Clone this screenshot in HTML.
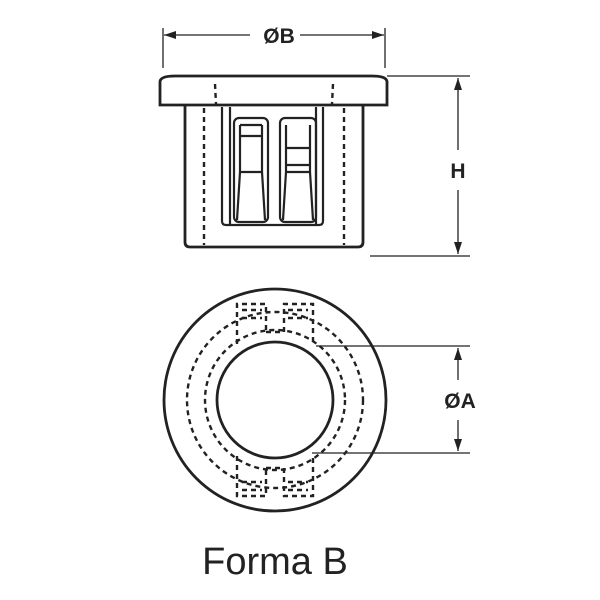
<!DOCTYPE html>
<html><head><style>body{margin:0;background:#fff}svg{display:block}</style></head><body>
<svg width="600" height="600" viewBox="0 0 600 600" xmlns="http://www.w3.org/2000/svg" font-family="Liberation Sans, sans-serif">
<defs><marker id="a" markerWidth="12" markerHeight="8" refX="12" refY="4" orient="auto" markerUnits="userSpaceOnUse"><path d="M0,0 L12,4 L0,8 Z" fill="#222"/></marker></defs>
<g stroke="#222" fill="none" stroke-width="1.3">
<line x1="163" y1="28" x2="163" y2="68"/><line x1="385" y1="28" x2="385" y2="68"/>
<line x1="250" y1="35" x2="164" y2="35" marker-end="url(#a)"/><line x1="300" y1="35" x2="384" y2="35" marker-end="url(#a)"/>
<line x1="387" y1="76" x2="470" y2="76"/><line x1="370" y1="256" x2="470" y2="256"/>
<line x1="458" y1="150" x2="458" y2="78" marker-end="url(#a)"/><line x1="458" y1="190" x2="458" y2="254" marker-end="url(#a)"/>
<line x1="316" y1="346" x2="470" y2="346"/><line x1="312" y1="453" x2="470" y2="453"/>
<line x1="458" y1="380" x2="458" y2="348" marker-end="url(#a)"/><line x1="458" y1="420" x2="458" y2="451" marker-end="url(#a)"/>
</g>
<g stroke="#222" fill="#fff" stroke-width="2.8">
<path d="M185,106 V242 Q185,247 190,247 H358 Q363,247 363,242 V106"/>
<path d="M160,105 V82 Q160,76 175,76 H372 Q387,76 387,82 V105 Z"/>
</g>
<g stroke="#222" fill="none" stroke-width="2.2">
<path d="M222,107 V221 Q222,225 226,225 H319 Q323,225 323,221 V107"/>
<path d="M230,107 V225 M316,107 V225"/>
<rect x="234" y="118" width="34" height="104" rx="5"/>
<rect x="280" y="118" width="36" height="104" rx="5"/>
<path d="M240,125 V172 L237,220 M262,125 V172 L265,220 M240,125 H262 M240,136 H262 M240,172 H262"/>
<path d="M286,125 V172 L283,220 M310,125 V172 L313,220 M286,148 H310 M286,165 H310 M286,172 H310"/>
</g>
<g stroke="#222" fill="none" stroke-width="2.4" stroke-dasharray="5,4">
<line x1="204" y1="108" x2="204" y2="245"/><line x1="344" y1="108" x2="344" y2="245"/>
<line x1="215" y1="84" x2="216" y2="104"/><line x1="333" y1="84" x2="332" y2="104"/>
<circle cx="275" cy="400" r="88"/><circle cx="275" cy="400" r="70"/>
<path d="M237,344 V304 H266 V332 M284,332 V304 H313 V344"/>
<path d="M237,456 V496 H266 V468 M284,468 V496 H313 V456"/>
<path d="M242,310 H262 M242,318 H262 M288,310 H308 M288,318 H308 M242,482 H262 M242,490 H262 M288,482 H308 M288,490 H308"/>
<path d="M266,332 H284 M266,468 H284"/>
</g>
<g stroke="#222" fill="none" stroke-width="2.8">
<circle cx="275" cy="400" r="111"/><circle cx="275" cy="400" r="58"/>
</g>
<g fill="#222" font-weight="bold" font-size="21" text-anchor="middle">
<text x="279" y="43">ØB</text><text x="458" y="178">H</text><text x="460" y="408">ØA</text>
</g>
<text x="275" y="574" font-size="38" text-anchor="middle" fill="#222">Forma B</text>
</svg>
</body></html>
